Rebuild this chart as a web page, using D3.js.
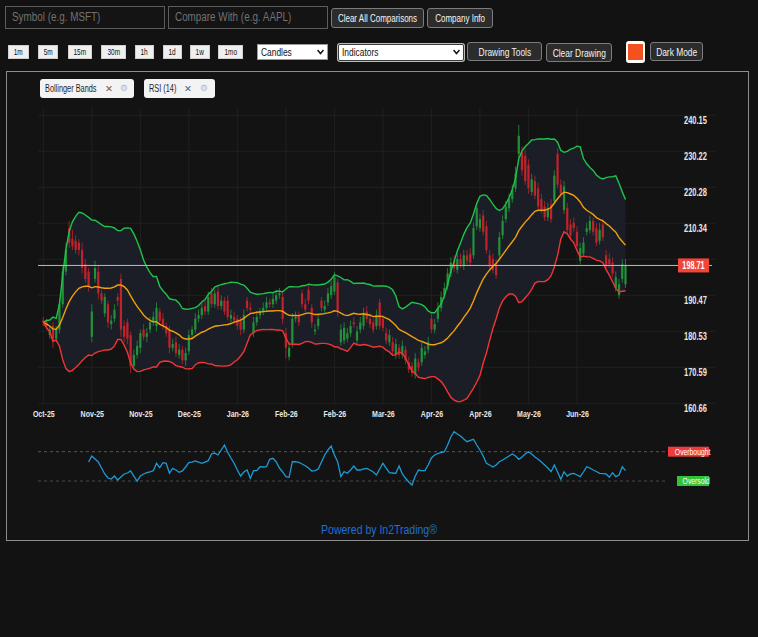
<!DOCTYPE html>
<html>
<head>
<meta charset="utf-8">
<script src="https://cdn.jsdelivr.net/npm/d3@7"></script>
<style>
  body { margin: 0; width: 758px; height: 637px; overflow: hidden; position: relative;
         background: #121212; font-family: Arial, "Liberation Sans", sans-serif; }
  .abs { position: absolute; box-sizing: border-box; white-space: nowrap; }
  .sq { display: inline-block; transform: scaleX(0.8); transform-origin: 50% 50%; }
  .field { height: 23px; top: 6px; border: 1px solid #5c5c5c; background: #141414; color: #727272;
           font-size: 12.5px; line-height: 21px; padding-left: 6px; }
  .field .sq { transform: scaleX(0.79); transform-origin: 0 50%; }
  .dark, .tf { display: flex; align-items: center; justify-content: center; }
  .dark { background: #2c2c2c; border: 1px solid #7c7c7c; border-radius: 3px; color: #f4f4f4;
          font-size: 10.5px; }
  .tf { top: 45px; height: 14px; background: #efefef; border: 1px solid #d0d0d0; color: #111;
        font-size: 9px; }
  .tf .sq { transform: scaleX(0.72); }
  .sel { top: 44px; height: 16px; background: #fff; color: #111; font-size: 10.5px; line-height: 14px;
         padding-left: 3px; }
  .sel .sq { transform-origin: 0 50%; }
  .sel svg { position: absolute; right: 3px; top: 4px; }
  .chip { top: 79px; height: 19px; background: #f3f3f3; border-radius: 3px; color: #1e1e1e;
          font-size: 10.5px; line-height: 19px; padding-left: 5px; }
  .chip .sq { transform: scaleX(0.7); transform-origin: 0 50%; }
  .chip .x { position: absolute; color: #666; font-family: "DejaVu Sans", sans-serif; font-size: 9.5px; }
  .chip .g { position: absolute; color: #b4b9c8; font-family: "DejaVu Sans", sans-serif; font-size: 9px; }
  #panel { left: 6px; top: 71px; width: 743px; height: 470px; border: 1px solid #8d8d8d; background: #131313; }
  #chart { position: absolute; left: 0; top: 0; }
  #footer { left: 0; width: 758px; top: 523px; text-align: center; color: #1f6fd6; font-size: 12.5px; }
  #footer .sq { transform: scaleX(0.84); }
</style>
</head>
<body>
<div class="abs" id="panel"></div>
<svg id="chart"></svg>

<div class="abs field" style="left:5px;width:160px;"><span class="sq">Symbol (e.g. MSFT)</span></div>
<div class="abs field" style="left:168px;width:160px;"><span class="sq">Compare With (e.g. AAPL)</span></div>
<div class="abs dark" style="left:331px;top:8px;width:93px;height:20px;font-size:10px;"><span class="sq">Clear All Comparisons</span></div>
<div class="abs dark" style="left:427px;top:8px;width:66px;height:20px;font-size:10px;"><span class="sq">Company Info</span></div>

<div class="abs tf" style="left:8px;width:21px;"><span class="sq">1m</span></div>
<div class="abs tf" style="left:38px;width:20px;"><span class="sq">5m</span></div>
<div class="abs tf" style="left:68px;width:24px;"><span class="sq">15m</span></div>
<div class="abs tf" style="left:101px;width:25px;"><span class="sq">30m</span></div>
<div class="abs tf" style="left:135px;width:19px;"><span class="sq">1h</span></div>
<div class="abs tf" style="left:163px;width:19px;"><span class="sq">1d</span></div>
<div class="abs tf" style="left:190px;width:20px;"><span class="sq">1w</span></div>
<div class="abs tf" style="left:218px;width:25px;"><span class="sq">1mo</span></div>

<div class="abs sel" style="left:257px;width:71px;border:1px solid #9a9a9a;"><span class="sq">Candles</span>
  <svg width="7" height="6"><path d="M0.5,1 L3.5,4.5 L6.5,1" fill="none" stroke="#111" stroke-width="1.5"/></svg></div>
<div class="abs sel" style="left:338px;width:126px;height:17px;border:1.5px solid #3a3a3a;border-radius:2px;box-shadow:0 0 0 1px #bbb;"><span class="sq">Indicators</span>
  <svg width="7" height="6"><path d="M0.5,1 L3.5,4.5 L6.5,1" fill="none" stroke="#111" stroke-width="1.5"/></svg></div>

<div class="abs dark" style="left:467px;top:42px;width:75px;height:19px;"><span class="sq">Drawing Tools</span></div>
<div class="abs dark" style="left:546px;top:43px;width:66px;height:19px;"><span class="sq">Clear Drawing</span></div>
<div class="abs" style="left:626px;top:41px;width:19px;height:22px;background:#fff;border-radius:3px;">
  <div class="abs" style="left:2px;top:3px;width:15px;height:16px;background:#f4511e;"></div></div>
<div class="abs dark" style="left:650px;top:42px;width:53px;height:19px;"><span class="sq">Dark Mode</span></div>

<div class="abs chip" style="left:40px;width:94px;"><span class="sq">Bollinger Bands</span><span class="x" style="left:65px;">✕</span><span class="g" style="left:80px;">⚙</span></div>
<div class="abs chip" style="left:144px;width:71px;"><span class="sq">RSI (14)</span><span class="x" style="left:40px;">✕</span><span class="g" style="left:56px;">⚙</span></div>

<div class="abs" id="footer"><span class="sq">Powered by In2Trading®</span></div>

<script>
// x axis labels, one every 15 sessions
const xTickLabels = ["Oct-25", "Nov-25", "Nov-25", "Dec-25", "Jan-26", "Feb-26",
                     "Feb-26", "Mar-26", "Apr-26", "Apr-26", "May-26", "Jun-26"];
const xTickEvery = 15;
const yTicks = [160.66, 170.59, 180.53, 190.47, 200.41, 210.34, 220.28, 230.22, 240.15];
const lastPrice = 198.71;
const bbPeriod = 20, bbMult = 2;
const rsiLevels = [{ v: 70, label: "Overbought", color: "#ef3b3b" },
                   { v: 30, label: "Oversold", color: "#35c23a" }];

// daily candles
const opens = [
  183.5, 183.0, 179.5, 182.0, 178.5, 181.0, 188.0, 197.0, 209.0, 206.0,
  205.5, 205.0, 203.0, 199.0, 197.0, 179.0, 195.0, 197.0, 191.0, 185.5,
  188.0, 182.5, 184.0, 190.0, 195.0, 182.0, 183.0, 179.5, 171.0, 174.0,
  176.0, 181.0, 179.0, 181.0, 183.0, 182.0, 186.0, 184.0, 182.0, 181.0,
  176.0, 177.5, 174.0, 175.5, 172.5, 175.0, 179.5, 181.0, 184.0, 185.0,
  187.5, 186.0, 191.0, 188.0, 191.5, 187.5, 189.0, 189.0, 184.0, 184.5,
  184.0, 183.5, 181.0, 189.0, 187.0, 180.0, 183.0, 185.0, 186.0, 187.0,
  188.5, 188.0, 189.0, 190.5, 190.0, 180.0, 173.5, 177.0, 184.0, 185.0,
  191.0, 188.0, 192.0, 187.0, 180.5, 182.0, 189.0, 186.5, 188.5, 190.5,
  191.5, 194.0, 177.5, 178.0, 178.5, 180.0, 183.0, 178.0, 181.0, 182.0,
  186.0, 184.0, 183.0, 182.0, 188.5, 184.0, 180.0, 177.5, 177.5, 174.0,
  176.0, 174.0, 175.5, 172.0, 171.0, 168.5, 172.0, 172.0, 174.0, 175.5,
  184.0, 181.0, 184.0, 187.0, 190.5, 193.0, 196.5, 200.0, 197.5, 200.5,
  198.5, 201.5, 202.0, 201.5, 209.5, 209.0, 212.5, 209.5, 201.5, 200.5,
  199.0, 201.5, 207.0, 211.5, 214.5, 217.0, 220.0, 229.5, 230.0, 229.0,
  226.5, 219.0, 222.0, 220.0, 217.0, 215.0, 212.0, 215.5, 216.5, 229.5,
  221.0, 214.0, 214.5, 210.0, 210.5, 208.0, 200.0, 202.0, 208.0, 208.5,
  211.0, 209.0, 205.5, 210.0, 201.5, 200.5, 199.5, 192.5, 190.5, 195.0,
  193.5
];
const highs = [
  184.5, 184.0, 182.0, 183.0, 182.0, 189.5, 198.5, 205.0, 211.0, 208.5,
  207.0, 206.0, 205.0, 200.5, 198.0, 188.0, 200.0, 198.5, 192.0, 191.0,
  189.0, 185.0, 188.0, 191.0, 196.5, 183.5, 184.0, 180.5, 175.5, 178.0,
  181.0, 182.5, 181.5, 184.5, 186.0, 188.5, 187.0, 185.5, 183.0, 182.0,
  178.5, 179.0, 177.0, 176.5, 176.0, 181.0, 182.0, 185.5, 186.5, 188.5,
  189.0, 191.5, 192.5, 192.0, 193.0, 190.5, 190.0, 190.5, 186.5, 186.0,
  185.0, 184.5, 186.5, 190.0, 188.5, 184.5, 186.0, 187.0, 188.5, 190.0,
  189.5, 191.0, 192.0, 192.5, 191.5, 181.5, 177.5, 185.5, 186.0, 186.0,
  192.0, 189.5, 193.0, 188.0, 182.5, 185.5, 190.0, 189.0, 192.5, 194.5,
  197.0, 195.0, 182.5, 183.0, 181.5, 183.5, 184.5, 182.0, 184.5, 187.0,
  187.5, 185.5, 184.0, 186.5, 189.5, 185.0, 181.5, 181.0, 179.0, 178.5,
  177.0, 178.0, 176.5, 173.5, 172.0, 174.5, 173.0, 177.5, 176.5, 179.0,
  185.5, 184.0, 188.5, 191.5, 194.0, 198.0, 201.0, 201.5, 202.0, 202.0,
  203.0, 203.0, 203.5, 210.5, 216.0, 213.0, 214.0, 211.0, 203.0, 202.0,
  200.5, 208.0, 212.5, 216.5, 218.5, 221.0, 226.0, 237.5, 231.5, 230.5,
  228.0, 224.0, 223.5, 221.5, 218.5, 216.5, 216.0, 217.0, 225.0, 231.0,
  222.5, 222.0, 216.0, 211.5, 212.0, 209.5, 205.0, 206.5, 210.5, 212.5,
  212.0, 210.5, 210.5, 211.5, 203.0, 202.0, 201.0, 197.0, 195.0, 200.5,
  200.5
];
const lows = [
  182.0, 181.0, 178.5, 176.0, 177.5, 180.0, 187.0, 196.0, 203.5, 203.0,
  202.0, 201.5, 196.5, 194.0, 191.5, 177.5, 194.0, 189.5, 188.0, 184.5,
  181.5, 181.0, 183.0, 187.5, 179.0, 177.5, 177.0, 169.0, 170.0, 173.0,
  174.5, 178.0, 177.5, 180.0, 182.0, 180.5, 182.5, 181.0, 179.0, 174.5,
  175.0, 173.5, 173.0, 171.5, 171.0, 174.0, 178.5, 180.0, 183.0, 184.0,
  185.0, 185.0, 187.0, 187.0, 186.5, 186.5, 185.0, 183.5, 183.0, 182.5,
  181.0, 179.5, 180.0, 186.0, 185.5, 179.0, 182.0, 184.0, 185.0, 186.0,
  187.0, 187.0, 188.0, 189.5, 182.5, 173.0, 172.5, 176.0, 183.0, 182.0,
  187.0, 185.5, 188.0, 181.5, 179.5, 181.0, 186.0, 185.5, 187.5, 189.5,
  190.5, 184.5, 176.5, 177.0, 177.5, 179.0, 181.5, 177.0, 180.0, 181.0,
  183.0, 181.5, 180.0, 181.0, 181.0, 180.5, 177.0, 176.5, 174.0, 173.0,
  173.0, 173.0, 171.5, 169.0, 168.0, 167.5, 169.5, 171.0, 173.0, 174.5,
  180.0, 180.0, 183.0, 186.0, 189.5, 192.0, 195.5, 197.0, 196.5, 198.0,
  197.5, 199.0, 198.5, 200.5, 208.5, 208.0, 207.0, 202.0, 197.5, 196.5,
  195.0, 200.5, 206.0, 210.5, 213.5, 216.0, 219.0, 228.5, 223.5, 221.0,
  218.5, 218.0, 217.0, 214.0, 213.0, 211.0, 211.0, 210.5, 215.5, 220.0,
  217.5, 213.0, 207.5, 206.0, 208.0, 203.0, 199.0, 201.0, 207.0, 207.5,
  207.0, 204.0, 204.5, 205.5, 197.5, 198.0, 195.5, 191.5, 189.5, 194.0,
  192.5
];
const closes = [
  183.0, 182.0, 181.0, 178.5, 181.0, 188.0, 197.0, 203.0, 205.0, 204.0,
  203.0, 203.0, 198.0, 195.0, 193.0, 186.0, 198.0, 191.0, 189.0, 190.0,
  183.0, 183.5, 186.5, 189.0, 181.0, 179.0, 178.5, 171.0, 174.0, 176.5,
  180.0, 179.0, 180.0, 183.0, 184.5, 187.0, 183.5, 182.0, 180.0, 176.0,
  177.0, 174.5, 175.5, 172.5, 174.5, 179.5, 181.0, 184.0, 185.0, 187.0,
  186.0, 190.0, 188.0, 191.0, 187.5, 189.0, 186.0, 184.5, 185.0, 183.5,
  182.0, 181.0, 185.0, 187.0, 186.5, 183.0, 184.5, 186.0, 187.0, 188.5,
  188.0, 189.5, 190.5, 191.0, 184.0, 176.0, 176.0, 184.0, 184.5, 183.0,
  188.0, 186.5, 189.0, 183.0, 181.0, 184.0, 187.0, 187.5, 191.0, 193.0,
  195.5, 186.0, 181.0, 181.5, 180.0, 182.0, 182.5, 180.5, 183.0, 185.5,
  184.0, 182.5, 181.0, 185.0, 182.0, 181.5, 178.0, 179.5, 175.0, 177.0,
  174.0, 176.5, 172.5, 170.0, 169.0, 173.0, 170.5, 176.0, 175.0, 177.5,
  181.0, 182.5, 187.0, 190.0, 192.5, 196.5, 199.5, 198.0, 200.5, 199.0,
  201.5, 200.0, 199.5, 209.0, 214.5, 211.5, 208.0, 203.0, 198.5, 197.5,
  196.0, 206.5, 211.0, 215.0, 217.0, 219.5, 224.0, 234.5, 225.0, 222.0,
  220.0, 222.5, 218.0, 215.0, 214.0, 212.0, 214.5, 211.5, 223.5, 221.0,
  218.5, 220.5, 208.5, 207.0, 209.0, 204.0, 203.5, 205.0, 209.0, 211.0,
  208.0, 205.0, 208.5, 206.5, 198.5, 199.0, 196.5, 195.5, 193.5, 199.0,
  198.71
];

// RSI (14) as plotted, starting at session 14
const rsiStart = 14;
const rsiValues = [
  55.9, 64.1, 60.0, 55.9, 47.7, 39.6, 34.1, 32.7, 36.8, 31.4,
  35.5, 39.6, 40.9, 43.7, 36.8, 30.0, 36.8, 39.6, 41.3, 42.3,
  44.1, 54.2, 48.2, 55.0, 54.2, 40.5, 47.3, 45.0, 41.9, 43.7,
  49.1, 55.0, 55.9, 57.3, 55.9, 54.2, 55.9, 57.7, 66.9, 68.2,
  65.5, 72.3, 79.1, 69.2, 61.4, 54.2, 45.0, 36.8, 42.3, 45.0,
  33.7, 44.1, 44.1, 49.5, 49.1, 49.5, 59.6, 61.0, 56.3, 47.7,
  42.3, 35.9, 35.1, 56.3, 56.3, 55.3, 53.2, 50.9, 47.7, 43.7,
  44.3, 46.4, 55.9, 65.5, 72.3, 77.8, 65.5, 56.3, 35.9, 42.7,
  40.5, 45.0, 50.5, 45.0, 45.0, 46.4, 47.3, 45.0, 42.3, 38.2,
  46.4, 54.2, 47.7, 41.3, 40.9, 40.5, 50.5, 39.6, 33.7, 28.6,
  24.5, 36.8, 45.0, 44.3, 44.1, 51.8, 61.4, 65.5, 67.5, 68.9,
  70.0, 79.1, 90.1, 97.3, 94.2, 91.4, 87.3, 83.7, 85.3, 86.9,
  79.1, 72.3, 64.1, 54.2, 51.8, 49.1, 51.8, 56.3, 58.7, 61.4,
  64.1, 66.9, 64.1, 59.6, 62.8, 66.9, 70.0, 66.9, 62.8, 59.6,
  55.9, 51.8, 47.7, 42.7, 51.8, 42.3, 32.3, 42.7, 36.8, 39.6,
  40.5, 38.2, 35.9, 42.3, 49.5, 47.7, 45.0, 43.0, 40.5, 40.2,
  39.6, 35.1, 41.3, 35.9, 38.2, 49.5, 44.1
];

const W = 758, H = 637;
const svg = d3.select("#chart").attr("width", W).attr("height", H);
const axisFont = "Arial, 'Liberation Sans', sans-serif";

const x = d3.scaleLinear().domain([0, closes.length - 1]).range([43.3, 625.5]);
const y = d3.scaleLinear().domain([yTicks[0], yTicks[yTicks.length - 1]]).range([403.3, 115.3]);
const yRsi = d3.scaleLinear().domain([0, 100]).range([503, 429.7]);

// Bollinger bands (SMA 20 +/- 2 sd), window grows from the first bar
const bands = closes.map((c, i) => {
  const win = closes.slice(Math.max(0, i - bbPeriod + 1), i + 1);
  const mid = d3.mean(win);
  const sd = Math.sqrt(d3.mean(win, v => (v - mid) ** 2));
  return { i, mid, upper: mid + bbMult * sd, lower: mid - bbMult * sd };
});

// grid
const xTickIdx = xTickLabels.map((d, k) => k * xTickEvery);
svg.append("g").selectAll("line").data(yTicks).join("line")
  .attr("x1", 38).attr("x2", 716).attr("y1", d => y(d)).attr("y2", d => y(d))
  .attr("stroke", "#202020");
svg.append("g").selectAll("line").data(xTickIdx).join("line")
  .attr("x1", d => x(d)).attr("x2", d => x(d)).attr("y1", 108).attr("y2", 405)
  .attr("stroke", "#202020");

// band fill
svg.append("path").datum(bands)
  .attr("fill", "#1b1e27")
  .attr("d", d3.area().x(d => x(d.i)).y0(d => y(d.lower)).y1(d => y(d.upper)));

// candles
const up = "#23913a", down = "#c0232b";
const candle = svg.append("g").selectAll("g").data(closes).join("g")
  .attr("stroke", (c, i) => c >= opens[i] ? up : down)
  .attr("fill", (c, i) => c >= opens[i] ? up : down);
candle.append("line")
  .attr("x1", (c, i) => x(i)).attr("x2", (c, i) => x(i))
  .attr("y1", (c, i) => y(highs[i])).attr("y2", (c, i) => y(lows[i]))
  .attr("stroke-width", 0.8);
candle.append("rect")
  .attr("x", (c, i) => x(i) - 1.1).attr("width", 2.2)
  .attr("y", (c, i) => y(Math.max(c, opens[i])))
  .attr("height", (c, i) => Math.max(0.8, Math.abs(y(c) - y(opens[i]))))
  .attr("stroke", "none");

// band lines
const bandLine = key => d3.line().x(d => x(d.i)).y(d => y(d[key]));
[["upper", "#1fc24a"], ["mid", "#f0a00c"], ["lower", "#ef3535"]].forEach(([k, col]) => {
  svg.append("path").datum(bands).attr("fill", "none").attr("stroke", col)
    .attr("stroke-width", 1.4).attr("d", bandLine(k));
});

// last price line
svg.append("line").attr("x1", 38).attr("x2", 712)
  .attr("y1", y(lastPrice)).attr("y2", y(lastPrice))
  .attr("stroke", "#bdbdbd").attr("stroke-width", 1);

// axes (labels hidden where the price tag sits)
const yAxis = svg.append("g").attr("transform", "translate(684,0)")
  .call(d3.axisRight(y).tickValues(yTicks.filter(v => Math.abs(v - lastPrice) > 3))
    .tickSize(0).tickPadding(0).tickFormat(d3.format(".2f")));
yAxis.select(".domain").remove();
yAxis.selectAll("text").attr("fill", "#e8e8e8").attr("dy", "0.78em")
  .attr("transform", "scale(0.75,1)")
  .style("font-family", axisFont).style("font-size", "10px").style("font-weight", "bold");

const tagG = svg.append("g").attr("transform", `translate(693.5,${y(lastPrice)})`);
tagG.append("rect").attr("x", -15.5).attr("y", -7).attr("width", 31).attr("height", 14)
  .attr("fill", "#f2453a");
tagG.append("text").attr("dy", "0.35em").attr("text-anchor", "middle").attr("fill", "#fff")
  .attr("transform", "scale(0.73,1)")
  .style("font-family", axisFont).style("font-size", "10px").style("font-weight", "bold")
  .text(lastPrice.toFixed(2));

const xAxis = svg.append("g").attr("transform", "translate(0,410)")
  .call(d3.axisBottom(x).tickValues(xTickIdx).tickSize(0).tickPadding(0)
    .tickFormat((d, k) => xTickLabels[k]));
xAxis.select(".domain").remove();
xAxis.selectAll("text").attr("fill", "#e8e8e8").attr("transform", "scale(0.74,1)")
  .style("font-family", axisFont).style("font-size", "9.5px").style("font-weight", "bold");

// RSI pane
svg.append("g").selectAll("line").data(rsiLevels).join("line")
  .attr("x1", 38).attr("x2", 668).attr("y1", d => yRsi(d.v)).attr("y2", d => yRsi(d.v))
  .attr("stroke", "#4a4a4a").attr("stroke-width", 1.2).attr("stroke-dasharray", "3,3");

svg.append("path").datum(rsiValues).attr("fill", "none").attr("stroke", "#1d9ad6")
  .attr("stroke-width", 1.3)
  .attr("d", d3.line().x((d, k) => x(rsiStart + k)).y(d => yRsi(d)));

const tag = svg.append("g").selectAll("g").data(rsiLevels).join("g")
  .attr("transform", d => `translate(709,${yRsi(d.v)})`);
tag.append("rect")
  .attr("x", d => d.v === 70 ? -41 : -32).attr("y", -5)
  .attr("width", d => d.v === 70 ? 41 : 32).attr("height", 10)
  .attr("fill", d => d.color);
tag.append("text").attr("x", d => d.v === 70 ? -20.5 : -16).attr("dy", "0.35em")
  .attr("text-anchor", "middle").attr("fill", "#fff")
  .attr("transform", "scale(0.8,1)")
  .style("font-family", axisFont).style("font-size", "8.5px")
  .text(d => d.label);
</script>
</body>
</html>
